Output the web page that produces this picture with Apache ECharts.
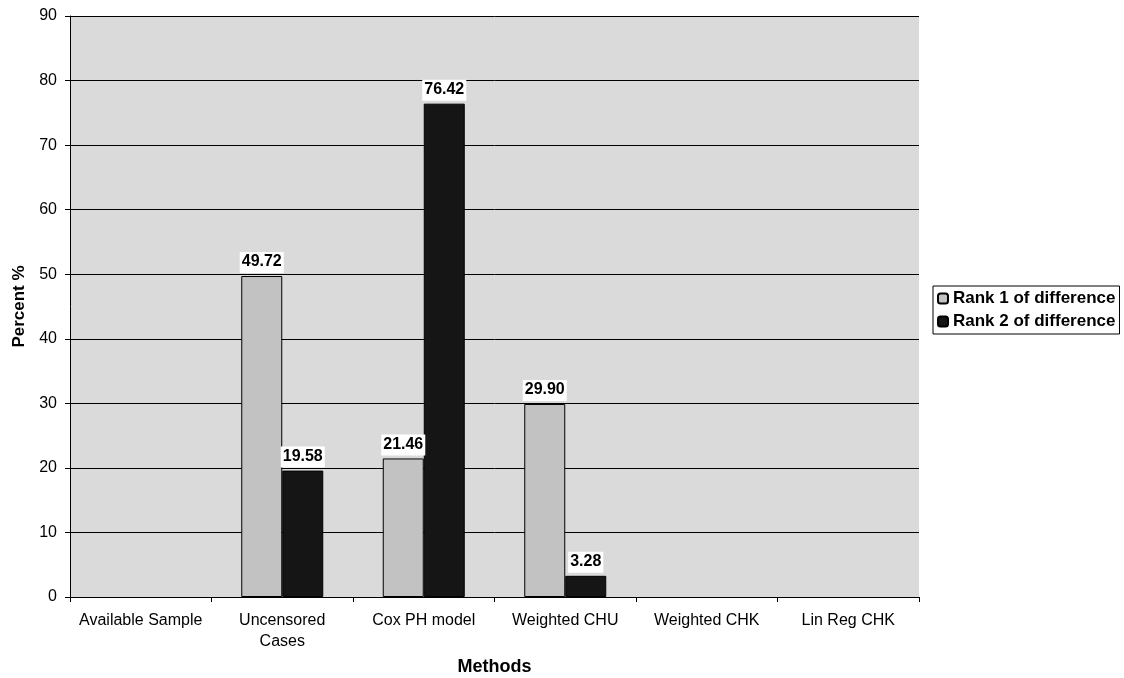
<!DOCTYPE html>
<html>
<head>
<meta charset="utf-8">
<script src="https://cdn.jsdelivr.net/npm/echarts@6/dist/echarts.min.js"></script>
<style>
  html, body { margin: 0; padding: 0; background: #fff; }
  #chart { width: 1124px; height: 678px; }
</style>
</head>
<body>
<div id="chart"></div>
<script>
const categories = ['Available Sample', 'Uncensored\nCases', 'Cox PH model', 'Weighted CHU', 'Weighted CHK', 'Lin Reg CHK'];
const rank1 = [null, 49.72, 21.46, 29.90, null, null];
const rank2 = [null, 19.58, 76.42, 3.28, null, null];
const seriesNames = ['Rank 1 of difference', 'Rank 2 of difference'];
const yTicks = { min: 0, max: 90, interval: 10 };

const chart = echarts.init(document.getElementById('chart'));

// value labels above bars, on a white box
const labelStyle = {
  show: true,
  position: 'top',
  distance: 3,
  color: '#000',
  fontFamily: 'Liberation Sans, Arial, sans-serif',
  fontWeight: 'bold',
  fontSize: 16,
  backgroundColor: '#fff',
  padding: [2, 2, 3, 2],
  formatter: p => p.value == null ? '' : p.value.toFixed(2)
};

chart.setOption({
  animation: false,
  textStyle: { fontFamily: 'Liberation Sans, Arial, sans-serif', color: '#000' },
  grid: {
    left: 70,
    right: 205,
    top: 16,
    bottom: 81,
    outerBoundsMode: 'none',
    show: true,
    backgroundColor: '#dadada',
    borderWidth: 0
  },
  legend: {
    orient: 'vertical',
    left: 933,
    top: 286,
    itemWidth: 10,
    itemHeight: 10,
    itemGap: 6,
    padding: [4, 4, 4, 4],
    borderColor: '#000',
    borderWidth: 1,
    textStyle: { fontSize: 17, fontWeight: 'bold', color: '#000', padding: [0, 0, 0, 0] },
    data: seriesNames
  },
  xAxis: {
    type: 'category',
    data: categories,
    name: 'Methods',
    nameLocation: 'middle',
    nameGap: 61,
    nameMoveOverlap: false,
    nameTextStyle: { fontSize: 18, fontWeight: 'bold', color: '#000' },
    axisLine: { lineStyle: { color: '#000', width: 1 } },
    axisTick: { show: true, length: 5, lineStyle: { color: '#000' } },
    axisLabel: { fontSize: 16, color: '#000', margin: 13, interval: 0, lineHeight: 21 }
  },
  yAxis: {
    type: 'value',
    min: yTicks.min,
    max: yTicks.max,
    interval: yTicks.interval,
    name: 'Percent %',
    nameLocation: 'middle',
    nameGap: 42,
    nameMoveOverlap: false,
    nameTextStyle: { fontSize: 17, fontWeight: 'bold', color: '#000' },
    axisLine: { show: true, lineStyle: { color: '#000', width: 1 } },
    axisTick: { show: true, length: 5, lineStyle: { color: '#000' } },
    axisLabel: { fontSize: 16, color: '#000', margin: 13 },
    splitLine: { lineStyle: { color: '#000', width: 1 } }
  },
  series: [
    {
      type: 'bar',
      name: seriesNames[0],
      data: rank1,
      barWidth: 41,
      barGap: '0%',
      itemStyle: { color: '#c2c2c2', borderColor: '#000', borderWidth: 1 },
      label: labelStyle
    },
    {
      type: 'bar',
      name: seriesNames[1],
      data: rank2,
      barWidth: 41,
      barGap: '0%',
      itemStyle: { color: '#151515', borderColor: '#000', borderWidth: 1 },
      label: labelStyle
    }
  ]
});
</script>
</body>
</html>
